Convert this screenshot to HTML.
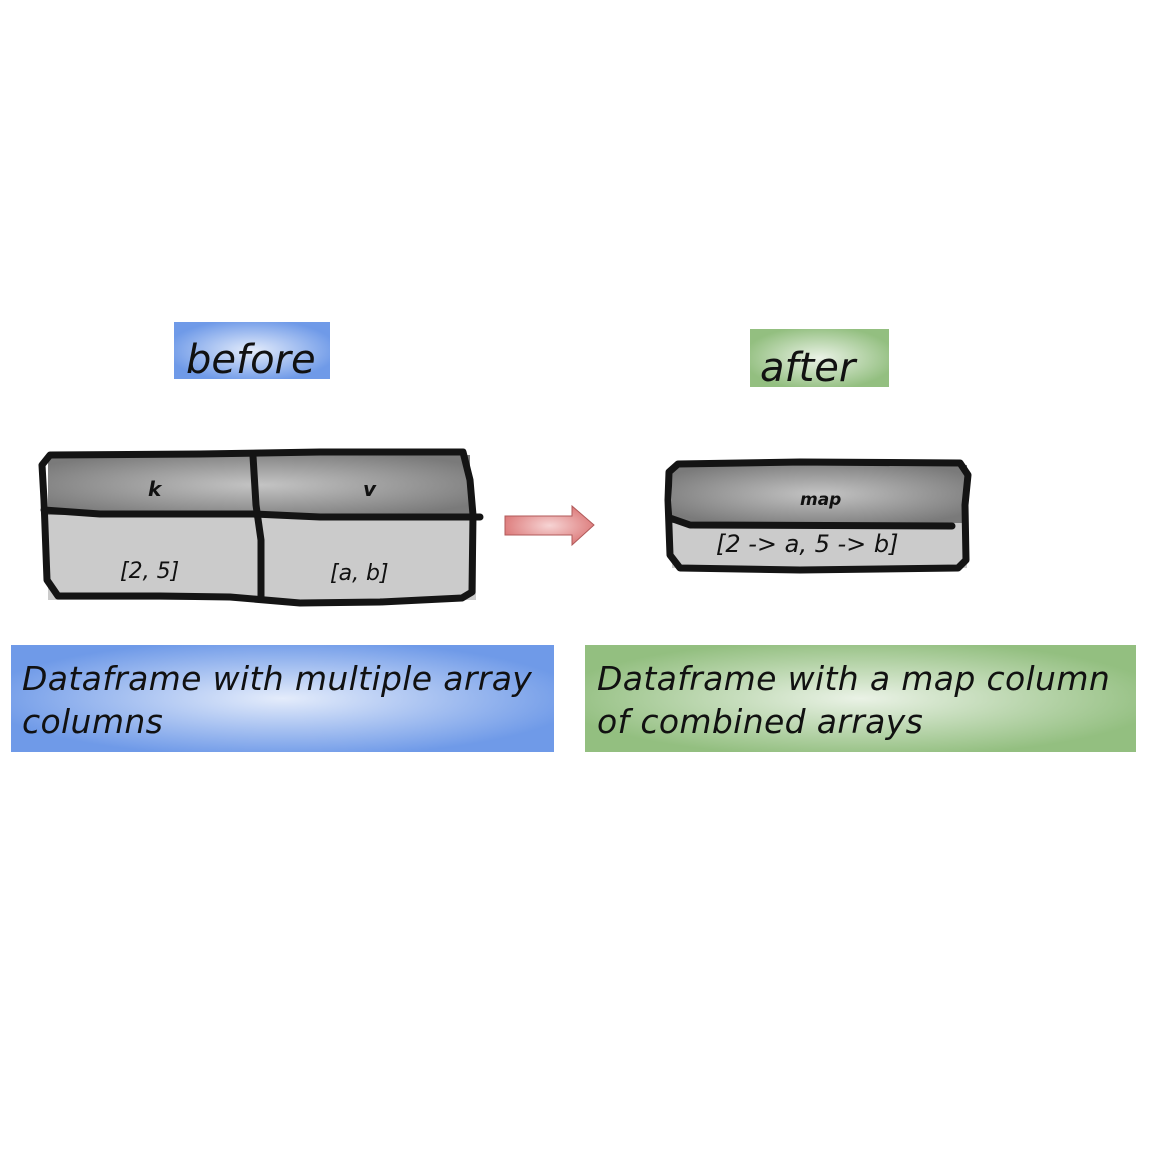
<!DOCTYPE html>
<html><head><meta charset="utf-8"><style>
html,body{margin:0;padding:0;background:#fff;}
svg{display:block}
text{font-family:"Comic Sans MS","DejaVu Sans","Liberation Sans",sans-serif;font-style:italic;fill:#111;}
.cap{letter-spacing:0.35px}
</style></head><body>
<svg width="1152" height="1152" viewBox="0 0 1152 1152" xmlns="http://www.w3.org/2000/svg">
<defs>
<radialGradient id="gh" cx="50%" cy="50%" r="60%"><stop offset="0" stop-color="#c4c4c4"/><stop offset="1" stop-color="#7a7a7a"/></radialGradient>
<radialGradient id="gb" cx="50%" cy="50%" r="55%"><stop offset="0" stop-color="#e4ecfb"/><stop offset="1" stop-color="#6f9ae8"/></radialGradient>
<radialGradient id="gg" cx="50%" cy="50%" r="55%"><stop offset="0" stop-color="#eaf2e6"/><stop offset="1" stop-color="#93bf80"/></radialGradient>
<radialGradient id="gr" cx="50%" cy="50%" r="55%"><stop offset="0" stop-color="#f6d4d4"/><stop offset="1" stop-color="#dc7878"/></radialGradient>
</defs>
<rect x="174" y="322" width="156" height="57" fill="url(#gb)"/>
<text x="186" y="373" font-size="40">before</text>
<rect x="750" y="329" width="139" height="58" fill="url(#gg)"/>
<text x="760" y="381" font-size="40">after</text>

<rect x="48" y="455" width="422" height="60" fill="url(#gh)"/>
<rect x="48" y="515" width="428" height="85" fill="#cbcbcb"/>
<g fill="none" stroke="#141414" stroke-width="7" stroke-linejoin="round" stroke-linecap="round">
<path d="M50 455 L200 454 L320 452 L463 452 L470 480 L473 515 L472 592 L462 598 L380 602 L300 603 L230 597 L160 596 L58 596 L47 580 L44 500 L42 465 Z"/>
<path d="M44 510 L100 514 L253 514 L320 517 L480 517"/>
<path d="M253 456 L256 505 L261 540 L261 598"/>
</g>
<text x="148" y="496" font-size="20" font-weight="bold">k</text>
<text x="363" y="496" font-size="20" font-weight="bold">v</text>
<text x="120" y="578" font-size="22">[2, 5]</text>
<text x="330" y="580" font-size="22">[a, b]</text>

<path d="M505 516 L572 516 L572 506 L594 525 L572 545 L572 535 L505 535 Z" fill="url(#gr)" stroke="#b05a5a" stroke-width="1"/>

<rect x="672" y="465" width="295" height="58" fill="url(#gh)"/>
<rect x="672" y="523" width="295" height="45" fill="#cbcbcb"/>
<g fill="none" stroke="#141414" stroke-width="7" stroke-linejoin="round" stroke-linecap="round">
<path d="M678 464 L800 462 L960 463 L968 475 L965 505 L966 560 L958 568 L800 570 L680 568 L670 555 L668 500 L669 472 Z"/>
<path d="M670 518 L690 525 L952 526"/>
</g>
<text x="800" y="505" font-size="17" font-weight="bold">map</text>
<text x="716" y="552" font-size="24">[2 -&gt; a, 5 -&gt; b]</text>

<rect x="11" y="645" width="543" height="107" fill="url(#gb)"/>
<text class="cap" x="22" y="690" font-size="33">Dataframe with multiple array</text>
<text class="cap" x="22" y="733" font-size="33">columns</text>
<rect x="585" y="645" width="551" height="107" fill="url(#gg)"/>
<text class="cap" x="597" y="690" font-size="33">Dataframe with a map column</text>
<text class="cap" x="597" y="733" font-size="33">of combined arrays</text>
</svg>
</body></html>
